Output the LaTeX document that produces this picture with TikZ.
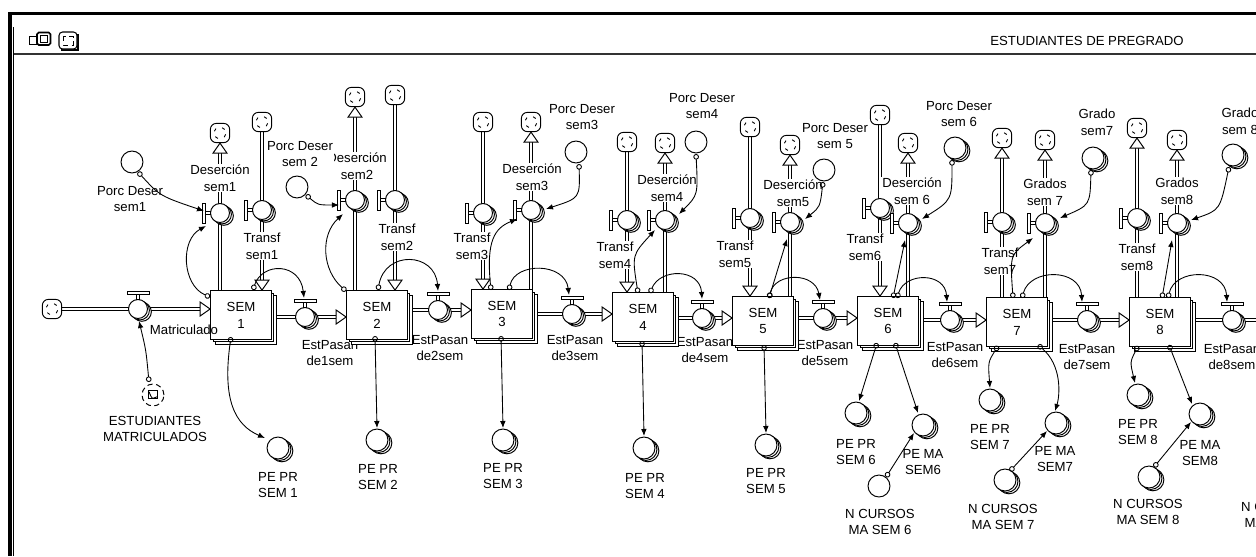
\documentclass[tikz,border=0pt]{standalone}
\usepackage{fontspec}
\setmainfont{Liberation Sans}
\usepackage{tikz}
\usetikzlibrary{arrows.meta, calc, shadows, backgrounds}

\tikzset{
  stock/.style={draw, fill=white, line width=0.55pt, inner sep=0pt,
    minimum width=34.6pt, minimum height=27.8pt, align=center,
    copy shadow={shadow xshift=2.8pt, shadow yshift=-2.8pt},
    copy shadow={shadow xshift=1.4pt, shadow yshift=-1.4pt}},
  valve/.style={circle, draw, fill=white, line width=0.55pt, inner sep=0pt,
    minimum size=10.8pt,
    copy shadow={shadow xshift=2.2pt, shadow yshift=-1.6pt},
    copy shadow={shadow xshift=1.1pt, shadow yshift=-0.8pt}},
  conv/.style={circle, draw, fill=white, line width=0.55pt, inner sep=0pt,
    minimum size=12.5pt},
  convs/.style={conv,
    copy shadow={shadow xshift=2.2pt, shadow yshift=-1.6pt},
    copy shadow={shadow xshift=1.1pt, shadow yshift=-0.8pt}},
  srccloud/.style={draw, fill=white, line width=0.55pt, rounded corners=3.5pt,
    minimum size=11pt, inner sep=0pt,
    path picture={
      \draw[line width=0.5pt]
        ($(path picture bounding box.center)+(-3.2pt,1.0pt)$) -- ++(0.9pt,1.5pt)
        ($(path picture bounding box.center)+(1.2pt,3.0pt)$) -- ++(1.5pt,-1.0pt)
        ($(path picture bounding box.center)+(3.2pt,-0.8pt)$) -- ++(-0.8pt,-1.6pt)
        ($(path picture bounding box.center)+(-1.2pt,-3.1pt)$) -- ++(-1.5pt,1.0pt);
    }},
  lbl/.style={align=center, fill=white, inner sep=0.5pt},
  pipe/.style={double, double distance=1.2pt, line width=0.55pt},
  ptip/.style={fill=white, line width=0.55pt, line join=miter},
  conn/.style={line width=0.5pt,
    arrows={Circle[open, length=3.2pt, width=3.2pt]-Latex[length=4pt, width=3.2pt]}},
  handle/.style={fill=white, draw, line width=0.5pt}
}

\begin{document}
\begin{tikzpicture}[x=0.02cm, y=-0.02cm,
    every node/.style={font=\fontsize{7.5}{9.6}\selectfont}]
  \useasboundingbox (0,0) rectangle (1256,556);
  \clip (0,0) rectangle (1256,556);

  % window frame and header
  \fill (8,11.5) rectangle (1256,14.5);
  \fill (8,11.5) rectangle (12,556);
  \draw[line width=0.6pt] (13.8,27) -- (13.8,556);
  \draw[line width=0.7pt, black!80] (13.8,54) -- (1256,54);
  \draw[line width=0.5pt] (29.5,36.5) rectangle (38,44.5);
  \draw[line width=0.9pt, rounded corners=1pt, fill=white] (37,32.5) rectangle (50.5,45);
  \draw[line width=0.5pt] (40,35.5) rectangle (47.5,42);
  \draw[line width=1.2pt] (78,34) -- (78,50) -- (61,50);
  \draw[line width=0.6pt, rounded corners=2pt, fill=white] (59,32) rectangle (77,49);
  \draw[densely dashed, line width=0.5pt] (63,36) rectangle (73,45);
  \node (title) at (1087,41) {ESTUDIANTES DE PREGRADO};

  % labels
  \node[lbl] (lEM) at (155,429) {ESTUDIANTES\\MATRICULADOS};
  \foreach \i/\x/\y in {1/330/353, 2/440/348, 3/575/348, 4/705/350,
                        5/825/353, 6/955/355, 7/1087/357, 8/1232/357}
    \node[lbl] (lE\i) at (\x,\y) {EstPasan\\de\i sem};
  \foreach \i/\x/\y in {1/262/246, 2/397/237, 3/472/246, 4/615/255,
                        5/735/254, 6/865/247, 7/1000/261, 8/1137/257}
    \node[lbl] (lT\i) at (\x,\y) {Transf\\sem\i};
  \foreach \i/\x/\y/\t in {1/220/178/Deserción\\sem1, 2/357/166/Deserción\\sem2,
      3/532/177/Deserción\\sem3, 4/667/188/Deserción\\sem4,
      5/793/193/Deserción\\sem5, 6/912/191/Deserción\\sem 6,
      7/1045/192/Grados\\sem 7, 8/1177/191/Grados\\sem8}
    \node[lbl] (lD\i) at (\x,\y) {\t};
  \foreach \i/\x/\y/\t in {1/130/199/Porc Deser\\sem1, 2/300/154/Porc Deser\\sem 2,
      3/582/117/Porc Deser\\sem3, 4/702/106/Porc Deser\\sem4,
      5/835/136/Porc Deser\\sem 5, 6/959/114/Porc Deser\\sem 6,
      7/1097/122/Grado\\sem7, 8/1240/121/Grado\\sem 8}
    \node[lbl] (lP\i) at (\x,\y) {\t};
  \foreach \i/\x/\y in {1/278/485, 2/378/477, 3/503/476, 4/645/486,
                        5/766/481, 6/856/452, 7/990/437, 8/1138/432}
    \node[lbl] (lR\i) at (\x,\y) {PE PR\\SEM \i};
  \foreach \i/\x/\y in {6/923/462, 7/1055/459, 8/1200/453}
    \node[lbl] (lA\i) at (\x,\y) {PE MA\\SEM\i};
  \foreach \i/\x/\y in {6/880/522, 7/1003/517, 8/1148/512, 9/1276/515}
    \node[lbl] (lN\i) at (\x,\y) {N CURSOS\\MA SEM \i};

  % stocks
  \foreach \i/\x/\y in {1/241/315, 2/377/315, 3/502/314, 4/643/317,
                        5/763/321, 6/888/321, 7/1017/322, 8/1160/322}
    \node[stock] (S\i) at (\x,\y) {SEM\\\i};

  % inflow
  \node[srccloud] (cM) at (52,309) {};
  \node[valve] (M) at (138,309) {};
  \node[lbl, fill=none] (lM) at (184,330) {Matriculado};
  \node[conv, densely dashed, path picture={
      \draw[solid, line width=0.5pt]
        ($(path picture bounding box.center)+(-2.8pt,-2.2pt)$) rectangle
        ($(path picture bounding box.center)+(2.8pt,2.6pt)$);
      \draw[solid, line width=0.5pt]
        ($(path picture bounding box.center)+(-2.2pt,1.8pt)$) .. controls
        ($(path picture bounding box.center)+(-0.6pt,-2.4pt)$) ..
        ($(path picture bounding box.center)+(2.2pt,-1.0pt)$);
    }] (EM) at (153,395) {};

  % flows between semesters
  \foreach \i/\x/\y in {1/305/317, 2/438/310, 3/572/314, 4/702/318,
                        5/823/318, 6/950/320, 7/1087/320, 8/1232/320}
    \node[valve] (E\i) at (\x,\y) {};

  % transfer and dropout flows, with their clouds
  \foreach \i/\tx/\ty/\tc/\dx/\dy/\dc in {1/262/210/122/220/213/133,
      2/395/200/95/355/200/97, 3/483/213/122/531/210/122,
      4/627/220/142/665/220/143, 5/750/218/127/790/222/145,
      6/880/208/115/908/223/143, 7/1002/222/138/1045/223/140,
      8/1137/218/128/1177/223/140} {
    \node[srccloud] (cT\i) at (\tx,\tc) {};
    \node[valve] (T\i) at (\tx,\ty) {};
    \node[srccloud] (cD\i) at (\dx,\dc) {};
    \node[valve] (D\i) at (\dx,\dy) {};
  }

  % rates
  \foreach \i/\x/\y in {1/132/162, 2/297/187, 3/576/152, 4/696/142, 5/824/170}
    \node[conv] (P\i) at (\x,\y) {};
  \foreach \i/\x/\y in {6/955/148, 7/1093/158, 8/1233/155}
    \node[convs] (P\i) at (\x,\y) {};
  \foreach \i/\x/\y in {1/278/448, 2/377/440, 3/503/440, 4/644/448,
                        5/766/445, 6/856/413, 7/990/400, 8/1138/395}
    \node[convs] (R\i) at (\x,\y) {};
  \foreach \i/\x/\y in {6/923/425, 7/1056/423, 8/1200/414}
    \node[convs] (A\i) at (\x,\y) {};
  \node[conv] (N6) at (879,486) {};
  \node[convs] (N7) at (1005,480) {};
  \node[convs] (N8) at (1149,477) {};

  % valve handles
  \foreach \v in {M,E1,E2,E3,E4,E5,E6,E7,E8} {
    \draw[handle] ($(\v.north)+(-1.8,0)$) rectangle ($(\v.north)+(1.8,-5)$);
    \draw[handle] ($(\v.north)+(-11,-5)$) rectangle ($(\v.north)+(11,-8)$);
  }
  \foreach \v in {T1,T2,T3,T4,T5,T6,T7,T8,D1,D2,D3,D4,D5,D6,D7,D8} {
    \draw[handle] ($(\v.west)+(0,-1.8)$) rectangle ($(\v.west)+(-5,1.8)$);
    \draw[handle] ($(\v.west)+(-5,-10)$) rectangle ($(\v.west)+(-8,10)$);
  }

  % pipes
  \begin{scope}[on background layer]
    \fill[white] (0,0) rectangle (1256,556);
    \draw[pipe, shorten >=5.6pt] (cM) -- (S1.west |- M);
    \draw[ptip] (S1.west |- M) -- ++(-10,-7) -- ++(0,14) -- cycle;
    \foreach \i/\j in {1/2,2/3,3/4,4/5,5/6,6/7,7/8} {
      \draw[pipe, shorten >=5.6pt] (S\i.east |- E\i) -- (S\j.west |- E\i);
      \draw[ptip] (S\j.west |- E\i) -- ++(-10,-7) -- ++(0,14) -- cycle;
    }
    \draw[pipe] (S8.east |- E8) -- (1262,320);
    \foreach \i in {1,...,6} {
      \draw[pipe, shorten >=5.6pt] (cT\i) -- (T\i |- S\i.north);
      \draw[ptip] (T\i |- S\i.north) -- ++(-7,-10) -- ++(14,0) -- cycle;
    }
    \foreach \i in {7,8} {
      \draw[pipe, shorten >=5.6pt] (T\i |- S\i.north) -- (cT\i);
      \draw[ptip] (cT\i.south) -- ++(-7,10) -- ++(14,0) -- cycle;
    }
    \foreach \i in {1,...,8} {
      \draw[pipe, shorten >=5.6pt] (D\i |- S\i.north) -- (cD\i);
      \draw[ptip] (cD\i.south) -- ++(-7,10) -- ++(14,0) -- cycle;
    }
  \end{scope}

  % connectors
  \draw[conn] ($(EM)+(-4,-13)$) .. controls (146,350) .. ($(M)+(1,12)$);
  \draw[conn] ($(P1)+(6,10)$) .. controls (160,196) .. ($(D1)+(-16,-2)$);
  \draw[conn] ($(S1)+(-31,-18)$) .. controls (182,285) and (180,240) .. ($(D1)+(-14,13)$);
  \draw[conn] ($(S1)+(12,-25)$) .. controls (262,262) and (300,262) .. ($(E1)+(-1,-19)$);
  \draw[conn] ($(S1)+(-10,22)$) .. controls (222,400) and (235,425) .. ($(R1)+(-13,-10)$);

  \draw[conn] ($(P2)+(9,8)$) .. controls (318,205) .. ($(D2)+(-16,5)$);
  \draw[conn] ($(S2)+(-31,-24)$) .. controls (322,270) and (320,235) .. ($(D2)+(-12,14)$);
  \draw[conn] ($(S2)+(1,-25)$) .. controls (385,250) and (435,252) .. ($(E2)+(0,-19)$);
  \draw[conn] ($(S2)+(-2,21)$) -- ($(R2)+(0,-12)$);

  \draw[conn] ($(P3)+(3,12)$) .. controls (580,198) .. ($(D3)+(15,-1)$);
  \draw[conn] ($(S3)+(-11,-24)$) .. controls (486,240) and (495,228) .. ($(D3)+(-14,9)$);
  \draw[conn] ($(S3)+(7,-24)$) .. controls (515,262) and (565,262) .. ($(E3)+(-3,-19)$);
  \draw[conn] ($(S3)+(-1,22)$) -- ($(R3)+(0,-12)$);

  \draw[conn] ($(P4)+(0,12)$) .. controls (698,195) .. ($(D4)+(14,-6)$);
  \draw[conn] ($(S4)+(-5,-24)$) .. controls (632,255) .. ($(D4)+(-10,10)$);
  \draw[conn] ($(S4)+(7,-24)$) .. controls (660,268) and (700,268) .. ($(E4)+(0,-19)$);
  \draw[conn] ($(S4)+(-1,24)$) -- ($(R4)+(0,-12)$);

  \draw[conn] ($(P5)+(-1,12)$) .. controls (820,207) .. ($(D5)+(15,-3)$);
  \draw[conn] ($(S5)+(6,-23)$) -- ($(D5)+(-3,17)$);
  \draw[conn] ($(S5)+(6,-23)$) .. controls (775,272) and (815,272) .. ($(E5)+(-3,-18)$);
  \draw[conn] ($(S5)+(1,24)$) -- ($(R5)+(0,-12)$);

  \draw[conn] ($(P6)+(-3,12)$) .. controls (952,200) .. ($(D6)+(14,-4)$);
  \draw[conn] ($(S6)+(5,-23)$) -- ($(D6)+(-3,17)$);
  \draw[conn] ($(S6)+(9,-23)$) .. controls (905,272) and (945,272) .. ($(E6)+(-3,-18)$);
  \draw[conn] ($(S6)+(-11,22)$) -- ($(R6)+(3,-12)$);
  \draw[conn] ($(S6)+(7,22)$) -- ($(A6)+(-5,-12)$);
  \draw[conn] ($(N6)+(7,-9)$) -- ($(A6)+(-9,8)$);

  \draw[conn] ($(P7)+(-2,12)$) .. controls (1090,205) .. ($(D7)+(15,-5)$);
  \draw[conn] ($(S7)+(-4,-24)$) .. controls (1010,255) .. ($(D7)+(-12,15)$);
  \draw[conn] ($(S7)+(5,-24)$) .. controls (1030,268) and (1080,268) .. ($(E7)+(-5,-18)$);
  \draw[conn] ($(S7)+(-19,24)$) .. controls (988,362) .. ($(R7)+(0,-12)$);
  \draw[conn] ($(S7)+(21,23)$) .. controls (1062,365) and (1060,395) .. ($(A7)+(-1,-12)$);
  \draw[conn] ($(N7)+(5,-9)$) -- ($(A7)+(-9,8)$);

  \draw[conn] ($(P8)+(-4,12)$) .. controls (1220,210) .. ($(D8)+(14,-3)$);
  \draw[conn] ($(S8)+(2,-24)$) -- ($(D8)+(-5,17)$);
  \draw[conn] ($(S8)+(8,-24)$) .. controls (1175,268) and (1225,268) .. ($(E8)+(-5,-18)$);
  \draw[conn] ($(S8)+(-22,24)$) .. controls (1130,362) .. ($(R8)+(-3,-12)$);
  \draw[conn] ($(S8)+(9,23)$) -- ($(A8)+(-8,-10)$);
  \draw[conn] ($(N8)+(5,-10)$) -- ($(A8)+(-9,8)$);
\end{tikzpicture}
\end{document}
